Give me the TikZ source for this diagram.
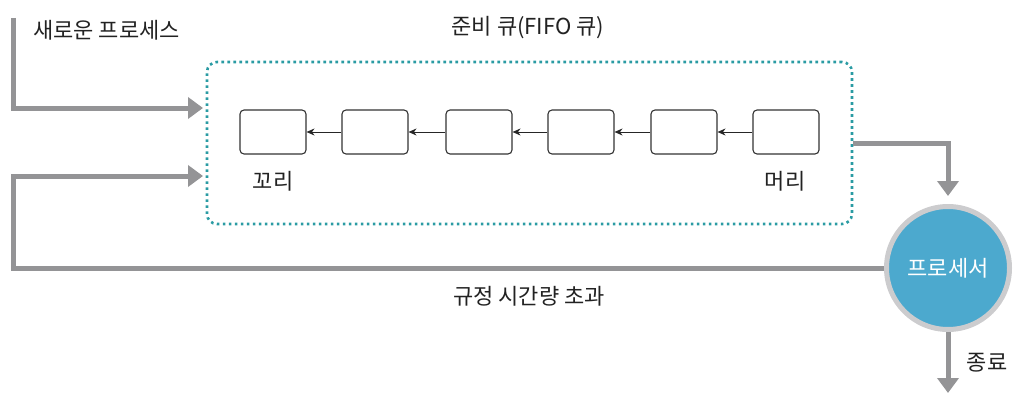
\documentclass[tikz,border=0pt]{standalone}
\usepackage{fontspec}
\setmainfont{Noto Sans CJK KR}
\usepackage{tikz}
\usetikzlibrary{arrows.meta}

\definecolor{flowgray}{RGB}{148,148,150}
\definecolor{queueteal}{RGB}{42,155,163}
\definecolor{cpublue}{RGB}{76,169,206}
\definecolor{ringgray}{RGB}{204,204,206}
\definecolor{textdark}{RGB}{34,34,34}

\begin{document}
\begin{tikzpicture}[x=1pt, y=-1pt,
		every node/.style={font=\fontsize{22}{26}\selectfont, text=textdark, inner sep=0pt},
		flow/.style={draw=flowgray, line width=5pt},
		flowarrow/.style={flow, -{Triangle[width=21pt, length=15pt]}},
		slot/.style={draw=black!80, line width=1.1pt, rounded corners=4pt, minimum width=66pt, minimum height=44pt},
		link/.style={draw=black!85, line width=0.9pt, -{Stealth[length=8pt, width=7pt]}}]
		\useasboundingbox (0,0) rectangle (1023,404);

		% ready queue
		\node[draw=queueteal, line width=2.6pt, dash pattern=on 2.6pt off 3.4pt, rounded corners=10pt,
			minimum width=645pt, minimum height=162pt] (queue) at (529.5,143) {};
		\node (qlabel) at (528,28) {준비 큐(FIFO 큐)};

		\foreach \i/\x in {1/273, 2/375, 3/479, 4/581, 5/684, 6/786}
			\node[slot] (b\i) at (\x,132) {};
		\foreach \i [evaluate=\i as \j using int(\i+1)] in {1,...,5}
			\draw[link] (b\j.west) -- (b\i.east);

		\node (tail) at (273,181) {꼬리};
		\node (head) at (785,181) {머리};

		% processor
		\node[circle, draw=ringgray, line width=5pt, fill=cpublue, minimum size=123pt,
			text=white] (cpu) at (948,268) {프로세서};

		\coordinate (newtop) at (13,18);
		\coordinate (in1) at (203,108);
		\coordinate (in2) at (203,176);
		\coordinate (done) at (948,393);

		\node[anchor=west] (newlabel) at (33,30) {새로운 프로세스};
		\draw[flowarrow] (newtop) |- (in1);

		\draw[flowarrow, shorten >=8pt] (queue.east) -| (cpu.north);
		\draw[flowarrow] (cpu.south) -- (done);
		\node (donelabel) at (987,363) {종료};

		\draw[flowarrow] (cpu.west) -| (newtop |- in2) -- (in2);
		\node (timeout) at (529,296) {규정 시간량 초과};
\end{tikzpicture}
\end{document}
